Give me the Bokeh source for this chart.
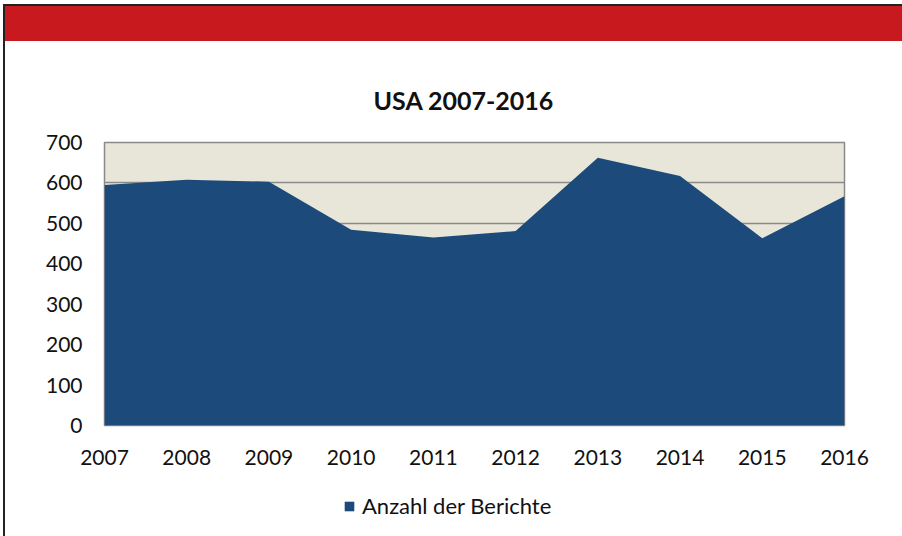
from bokeh.plotting import figure
from bokeh.models import Range1d, FixedTicker, Legend, LegendItem, ColumnDataSource
from bokeh.layouts import column
from bokeh.embed import file_html
from bokeh.resources import INLINE

years = [2007, 2008, 2009, 2010, 2011, 2012, 2013, 2014, 2015, 2016]
reports = [595, 608, 603, 484, 465, 481, 662, 617, 463, 567]
y_ticks = [0, 100, 200, 300, 400, 500, 600, 700]
title_text = "USA 2007-2016"
series_name = "Anzahl der Berichte"

FONT = "Lato"
W, H = 902, 536
H_LEG = 50
AREA_COLOR = "#1C4A7A"

src = ColumnDataSource(dict(x=years, y=reports, y0=[0] * len(years)))

header_bg = ("linear-gradient(#222222,#222222) 3px 5px / 2px 100% no-repeat, "
             "linear-gradient(#222222,#222222) 3px 4px / 899px 2px no-repeat, "
             "linear-gradient(#C8191F,#C8191F) 3px 5px / 899px 36px no-repeat, "
             "#ffffff")
side_bg = "linear-gradient(#222222,#222222) 3px 0px / 2px 100% no-repeat, #ffffff"

p = figure(width=W, height=H - H_LEG, output_backend="svg", toolbar_location=None,
           x_range=Range1d(years[0], years[-1]), y_range=Range1d(y_ticks[0], y_ticks[-1]),
           min_border_left=104, min_border_right=58, min_border_top=142,
           min_border_bottom=H - H_LEG - 425,
           styles={"background": header_bg})

p.background_fill_color = "#E8E6D9"
p.border_fill_color = None
p.outline_line_color = "#8a8a8a"
p.outline_line_width = 1.5

r = p.varea(x="x", y1="y0", y2="y", source=src, fill_color=AREA_COLOR)

p.title.text = title_text
p.title.text_font = FONT
p.title.text_font_size = "25px"
p.title.text_font_style = "bold"
p.title.text_color = "#111111"
p.title.align = "left"
p.title.offset = 269
p.title.standoff = 55

p.xaxis.ticker = FixedTicker(ticks=years)
p.yaxis.ticker = FixedTicker(ticks=y_ticks)
for ax in (p.xaxis, p.yaxis):
    ax.axis_line_color = None
    ax.major_tick_line_color = None
    ax.minor_tick_line_color = None
    ax.major_label_text_font = FONT
    ax.major_label_text_font_size = "21px"
    ax.major_label_text_color = "#111111"
p.xaxis.major_label_standoff = 18
p.yaxis.major_label_standoff = 16

p.xgrid.grid_line_color = None
p.ygrid.grid_line_color = "#8a8a8a"
p.ygrid.grid_line_width = 1.5
p.ygrid.level = "underlay"

# legend strip below the chart (same data, drawn outside this strip's visible range)
p2 = figure(width=W, height=H_LEG, output_backend="svg", toolbar_location=None,
            x_range=Range1d(0, 1), y_range=Range1d(0, 1), min_border=0,
            styles={"background": side_bg})
p2.axis.visible = False
p2.grid.grid_line_color = None
p2.outline_line_color = None
p2.background_fill_color = None
p2.border_fill_color = None
r2 = p2.varea(x="x", y1="y0", y2="y", source=src, fill_color=AREA_COLOR)

legend = Legend(items=[LegendItem(label=series_name, renderers=[r2])],
                location=(239, 17), orientation="horizontal",
                border_line_color=None, background_fill_alpha=0,
                label_text_font=FONT, label_text_font_size="22px",
                label_text_color="#111111",
                glyph_width=12, glyph_height=12, label_standoff=7,
                margin=0, padding=6)
p2.add_layout(legend, "center")

layout = column(p, p2, spacing=0)
open("out.html", "w").write(file_html(layout, INLINE))
